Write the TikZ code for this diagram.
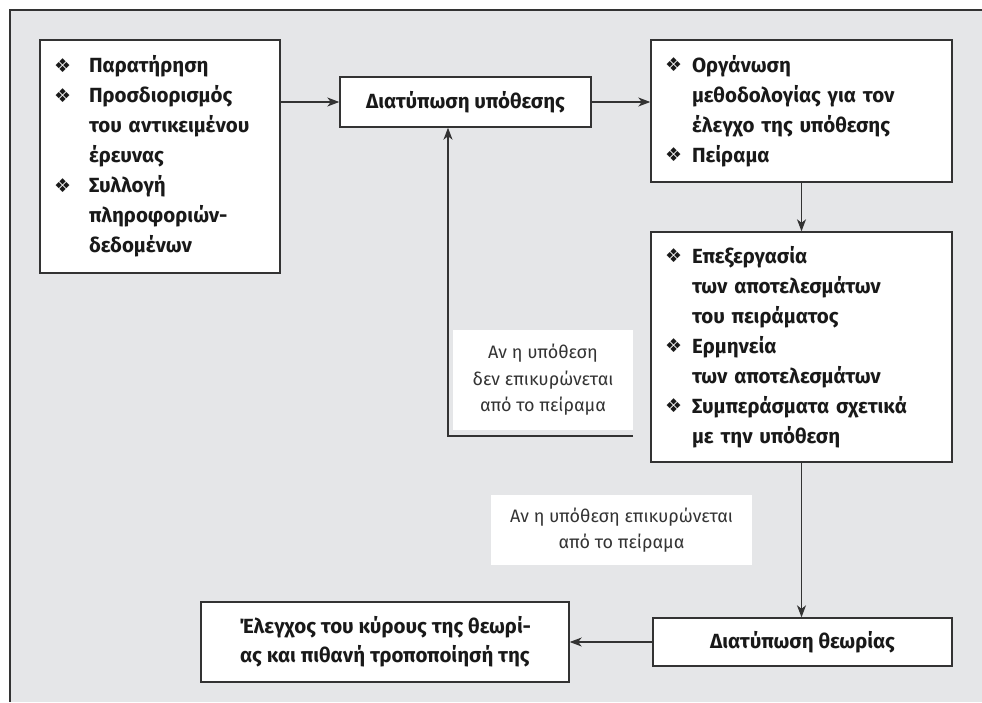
\documentclass[tikz,border=0pt]{standalone}
\usepackage{fontspec}
\usepackage{xcolor}
\setmainfont{Fira Sans}
\newfontfamily\symfont{DejaVu Sans}
\usetikzlibrary{positioning}
\usetikzlibrary{arrows.meta}

\definecolor{bggray}{HTML}{E5E6E8}
\definecolor{linegray}{HTML}{333333}
\newcommand{\bul}[1]{\makebox[#1][l]{\raisebox{0.5pt}{\symfont\fontsize{19}{19}\selectfont ❖}}}
\newcommand{\cont}[1]{\hspace*{#1}}

\tikzset{
    box/.style={draw=linegray, line width=1.4pt, fill=white, inner sep=0pt, text=black!90,
        font=\bfseries\fontsize{20.5}{30}\selectfont},
    listbox/.style={box, align=left, inner xsep=14pt},
    note/.style={fill=white, inner sep=0pt, align=center, text=black!80,
        font=\fontsize{18}{26.5}\selectfont},
    conn/.style={-{Stealth[length=12pt,width=9pt,inset=3.5pt]}, draw=linegray, line width=1.2pt},
}

\begin{document}
\begin{tikzpicture}[x=1pt, y=-1pt]
    \useasboundingbox (0,0) rectangle (982,702);
    \fill[bggray] (10,10) rectangle (982,702);
    \draw[linegray, line width=2.5pt] (982,10) -- (10,10) -- (10,702);

    \node[listbox, text width=212pt, minimum height=233pt] (observation) at (160,156.5)
        {\bul{35pt}Παρατήρηση\\ \bul{35pt}Προσδιορισμός\\ \cont{35pt}του αντικειμένου\\ \cont{35pt}έρευνας\\
         \bul{35pt}Συλλογή\\ \cont{35pt}πληροφοριών-\\ \cont{35pt}δεδομένων};
    \node[box, minimum width=251pt, minimum height=50pt] (hypothesis) at (465.5,102) {Διατύπωση υπόθεσης};
    \node[listbox, text width=273pt, minimum height=142pt] (method) at (801.5,111)
        {\bul{27pt}Οργάνωση\\ \cont{27pt}μεθοδολογίας για τον\\ \cont{27pt}έλεγχο της υπόθεσης\\ \bul{27pt}Πείραμα};
    \node[listbox, text width=273pt, minimum height=230pt] (analysis) at (801.5,347)
        {\bul{27pt}Επεξεργασία\\ \cont{27pt}των αποτελεσμάτων\\ \cont{27pt}του πειράματος\\
         \bul{27pt}Ερμηνεία\\ \cont{27pt}των αποτελεσμάτων\\
         \bul{27pt}Συμπεράσματα σχετικά\\ \cont{27pt}με την υπόθεση};
    \node[box, minimum width=299pt, minimum height=48pt] (theory) at (802.5,642) {Διατύπωση θεωρίας};
    \node[box, align=center, minimum width=368pt, minimum height=80pt, font=\bfseries\fontsize{20.5}{29}\selectfont]
        (validity) at (385,642) {Έλεγχος του κύρους της θεωρί-\\ας και πιθανή τροποποίησή της};

    \draw[conn] (observation.east |- hypothesis.west) -- (hypothesis.west);
    \draw[conn] (hypothesis.east) -- (hypothesis.east -| method.west);
    \draw[conn] (method.south) -- (analysis.north);
    \draw[conn] (analysis.south) -- (analysis.south |- theory.north);
    \draw[conn] (theory.west) -- (validity.east);
    % feedback when the experiment fails
    \coordinate (fb_start) at (633,436);
    \coordinate (fb_corner) at (448,436);
    \draw[conn] (fb_start) -- (fb_corner) -- (fb_corner |- hypothesis.south);

    \node[note, minimum width=180pt, minimum height=100pt] (label_fail) at (543,380)
        {Αν η υπόθεση\\ δεν επικυρώνεται\\ από το πείραμα};
    \node[note, minimum width=261pt, minimum height=70pt] (label_ok) at (621.5,530)
        {Αν η υπόθεση επικυρώνεται\\ από το πείραμα};
\end{tikzpicture}
\end{document}
